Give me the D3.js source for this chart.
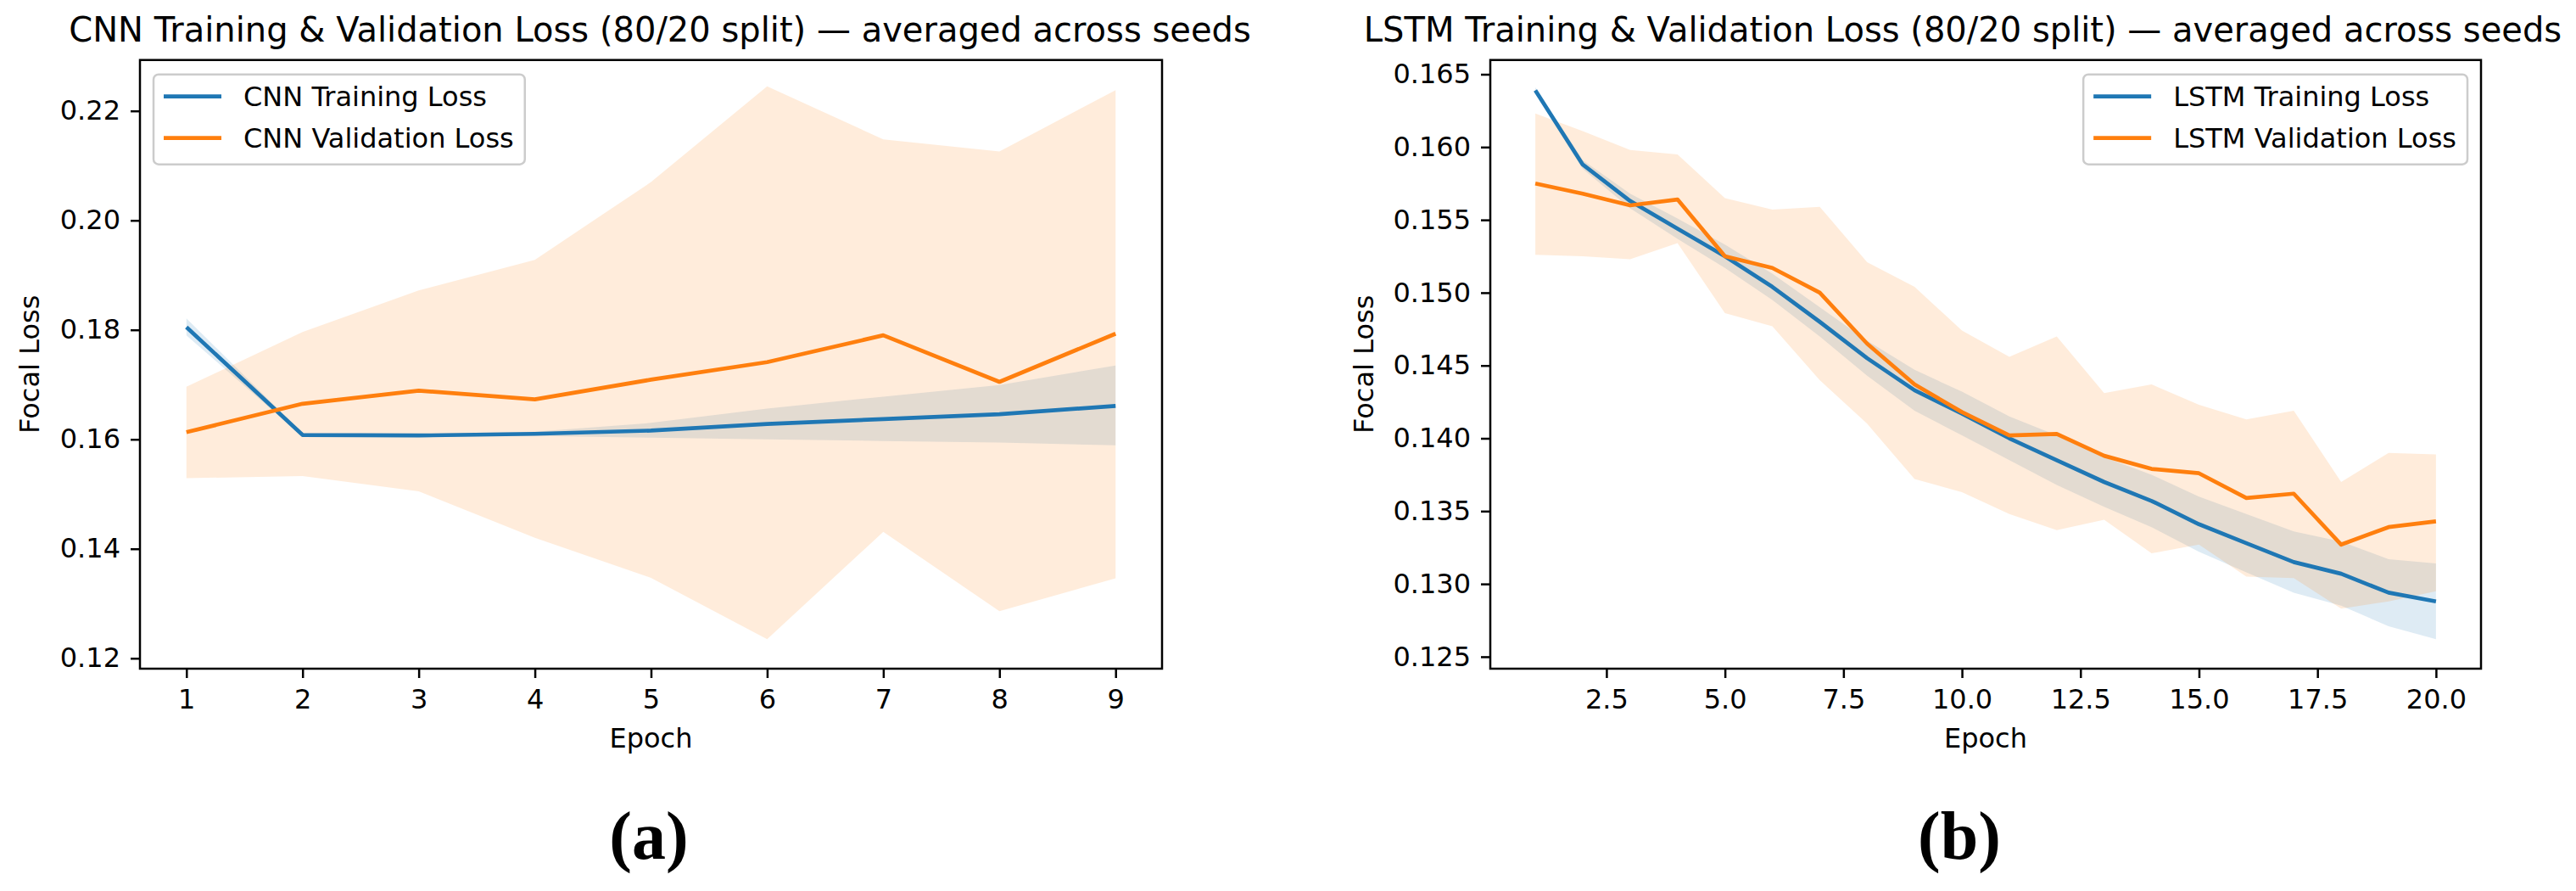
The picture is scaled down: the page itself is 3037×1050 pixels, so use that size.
<!DOCTYPE html>
<html>
  <head>
    <meta charset="UTF-8" />
    <title>CNN / LSTM Training & Validation Loss</title>
    <script src="https://cdn.jsdelivr.net/npm/d3@7"></script>
    <style>
      body { margin: 0; background: #fff; }
      svg { display: block; font-family: 'DejaVu Sans', sans-serif; }
    </style>
  </head>
  <body>
    <svg></svg>
    <script>
      // 1. data
      const cnnEpochs = [1, 2, 3, 4, 5, 6, 7, 8, 9]
      const cnnTrain = [0.1805, 0.1608, 0.1607, 0.161, 0.1616, 0.1628, 0.1637, 0.1646, 0.1661]
      const cnnTrainLo = [0.179, 0.1605, 0.1604, 0.1606, 0.1603, 0.16, 0.1597, 0.1594, 0.1589]
      const cnnTrainHi = [0.1821, 0.1611, 0.161, 0.1614, 0.163, 0.1656, 0.1678, 0.1699, 0.1735]
      const cnnVal = [0.1613, 0.1665, 0.1689, 0.1673, 0.1709, 0.1741, 0.179, 0.1705, 0.1793]
      const cnnValLo = [0.1529, 0.1533, 0.1505, 0.142, 0.1347, 0.1235, 0.1431, 0.1286, 0.1346]
      const cnnValHi = [0.1696, 0.1796, 0.1872, 0.1928, 0.207, 0.2245, 0.2148, 0.2126, 0.2238]

      const lstmEpochs = [1, 2, 3, 4, 5, 6, 7, 8, 9, 10, 11, 12, 13, 14, 15, 16, 17, 18, 19, 20]
      const lstmTrain = [0.1639, 0.1588, 0.1563, 0.1544, 0.1525, 0.1504, 0.148, 0.1455, 0.1433, 0.1417,
        0.14, 0.1385, 0.137, 0.1357, 0.1341, 0.1328, 0.1315, 0.1307, 0.1294, 0.1288]
      const lstmTrainLo = [0.1637, 0.1585, 0.1558, 0.1537, 0.1517, 0.1495, 0.147, 0.1443, 0.1419, 0.1402,
        0.1385, 0.1368, 0.1353, 0.1339, 0.1322, 0.1308, 0.1294, 0.1285, 0.1271, 0.1262]
      const lstmTrainHi = [0.1641, 0.1591, 0.1568, 0.1551, 0.1533, 0.1513, 0.149, 0.1467, 0.1447, 0.1432,
        0.1415, 0.1402, 0.1387, 0.1375, 0.136, 0.1348, 0.1336, 0.1329, 0.1317, 0.1314]
      const lstmVal = [0.1575, 0.1568, 0.156, 0.1564, 0.1525, 0.1517, 0.15, 0.1465, 0.1437, 0.1418,
        0.1402, 0.1403, 0.1388, 0.1379, 0.1376, 0.1359, 0.1362, 0.1327, 0.1339, 0.1343]
      const lstmValLo = [0.1526, 0.1525, 0.1523, 0.1534, 0.1486, 0.1477, 0.144, 0.141, 0.1372, 0.1363,
        0.1348, 0.1337, 0.1344, 0.1321, 0.1327, 0.1305, 0.1304, 0.1283, 0.1288, 0.1295]
      const lstmValHi = [0.1623, 0.1611, 0.1598, 0.1595, 0.1565, 0.1557, 0.1559, 0.1521, 0.1504, 0.1474,
        0.1456, 0.147, 0.1431, 0.1437, 0.1423, 0.1413, 0.1419, 0.137, 0.139, 0.1389]

      const cnnXTicks = [1, 2, 3, 4, 5, 6, 7, 8, 9]
      const cnnYTicks = [0.12, 0.14, 0.16, 0.18, 0.2, 0.22]
      const lstmXTicks = [2.5, 5, 7.5, 10, 12.5, 15, 17.5, 20]
      const lstmYTicks = [0.125, 0.13, 0.135, 0.14, 0.145, 0.15, 0.155, 0.16, 0.165]

      // 2. basics
      const width = 3037
      const height = 1050
      const fontSize = 32
      const blue = '#1f77b4'
      const orange = '#ff7f0e'

      const svg = d3
        .select('svg')
        .attr('width', width)
        .attr('height', height)
        .attr('viewBox', [0, 0, width, height])

      const panels = [
        {
          box: { left: 165, right: 1370, top: 70.7, bottom: 788 },
          xDomain: [0.6, 9.4],
          yDomain: [0.1181, 0.2293],
          xTicks: cnnXTicks,
          xFormat: d3.format('d'),
          yTicks: cnnYTicks,
          yFormat: d3.format('.2f'),
          title: 'CNN Training & Validation Loss (80/20 split) — averaged across seeds',
          titleX: 778,
          ylabelX: 34,
          tag: '(a)',
          tagX: 765,
          legend: 'left',
          series: [
            { name: 'CNN Training Loss', color: blue, x: cnnEpochs, mean: cnnTrain, lo: cnnTrainLo, hi: cnnTrainHi },
            { name: 'CNN Validation Loss', color: orange, x: cnnEpochs, mean: cnnVal, lo: cnnValLo, hi: cnnValHi },
          ],
        },
        {
          box: { left: 1757, right: 2925, top: 70.7, bottom: 788 },
          xDomain: [0.05, 20.95],
          yDomain: [0.12418, 0.16598],
          xTicks: lstmXTicks,
          xFormat: d3.format('.1f'),
          yTicks: lstmYTicks,
          yFormat: d3.format('.3f'),
          title: 'LSTM Training & Validation Loss (80/20 split) — averaged across seeds',
          titleX: 2314,
          ylabelX: 1607,
          tag: '(b)',
          tagX: 2310,
          legend: 'right',
          series: [
            { name: 'LSTM Training Loss', color: blue, x: lstmEpochs, mean: lstmTrain, lo: lstmTrainLo, hi: lstmTrainHi },
            { name: 'LSTM Validation Loss', color: orange, x: lstmEpochs, mean: lstmVal, lo: lstmValLo, hi: lstmValHi },
          ],
        },
      ]

      panels.forEach(drawPanel)

      function drawPanel(p) {
        const b = p.box
        const x = d3.scaleLinear(p.xDomain, [b.left, b.right])
        const y = d3.scaleLinear(p.yDomain, [b.bottom, b.top])
        const g = svg.append('g')

        // bands
        const area = d3
          .area()
          .x((d) => x(d[0]))
          .y0((d) => y(d[1]))
          .y1((d) => y(d[2]))
        g.append('g')
          .selectAll('path')
          .data(p.series)
          .join('path')
          .attr('fill', (d) => d.color)
          .attr('fill-opacity', 0.15)
          .attr('d', (d) => area(d3.zip(d.x, d.lo, d.hi)))

        // mean lines
        const line = d3
          .line()
          .x((d) => x(d[0]))
          .y((d) => y(d[1]))
        g.append('g')
          .attr('fill', 'none')
          .attr('stroke-width', 4.7)
          .attr('stroke-linejoin', 'round')
          .selectAll('path')
          .data(p.series)
          .join('path')
          .attr('stroke', (d) => d.color)
          .attr('d', (d) => line(d3.zip(d.x, d.mean)))

        // axes
        g.append('g')
          .attr('transform', `translate(0,${b.bottom})`)
          .call(d3.axisBottom(x).tickValues(p.xTicks).tickFormat(p.xFormat).tickSize(11).tickPadding(13).tickSizeOuter(0))
          .call(styleAxis)
        g.append('g')
          .attr('transform', `translate(${b.left},0)`)
          .call(d3.axisLeft(y).tickValues(p.yTicks).tickFormat(p.yFormat).tickSize(11).tickPadding(12).tickSizeOuter(0))
          .call(styleAxis)

        // frame
        g.append('rect')
          .attr('x', b.left)
          .attr('y', b.top)
          .attr('width', b.right - b.left)
          .attr('height', b.bottom - b.top)
          .attr('fill', 'none')
          .attr('stroke', '#000')
          .attr('stroke-width', 2.5)

        // texts
        g.append('text')
          .attr('x', p.titleX)
          .attr('y', 49)
          .attr('text-anchor', 'middle')
          .attr('font-size', 40)
          .text(p.title)
        g.append('text')
          .attr('x', (b.left + b.right) / 2)
          .attr('y', 881)
          .attr('text-anchor', 'middle')
          .attr('font-size', fontSize)
          .text('Epoch')
        g.append('text')
          .attr('transform', `translate(${p.ylabelX},${(b.top + b.bottom) / 2}) rotate(-90)`)
          .attr('dy', '0.36em')
          .attr('text-anchor', 'middle')
          .attr('font-size', fontSize)
          .text('Focal Loss')
        g.append('text')
          .attr('x', p.tagX)
          .attr('y', 1012)
          .attr('text-anchor', 'middle')
          .attr('font-family', "'Liberation Serif', serif")
          .attr('font-weight', 'bold')
          .attr('font-size', 80)
          .text(p.tag)

        drawLegend(g, p)
      }

      function styleAxis(g) {
        g.attr('font-size', fontSize).attr('font-family', null)
        g.select('.domain').remove()
        g.selectAll('.tick line').attr('stroke', '#000').attr('stroke-width', 2.5)
        g.selectAll('.tick text').attr('fill', '#000')
      }

      function drawLegend(g, p) {
        const b = p.box
        const lg = g.append('g')
        const rect = lg
          .append('rect')
          .attr('rx', 6)
          .attr('fill', '#fff')
          .attr('fill-opacity', 0.8)
          .attr('stroke', '#cccccc')
          .attr('stroke-width', 2.5)
        const rows = lg
          .selectAll('g.row')
          .data(p.series)
          .join('g')
          .attr('class', 'row')
          .attr('transform', (d, i) => `translate(0,${26 + i * 49})`)
        rows.append('line')
          .attr('x1', 12)
          .attr('x2', 80)
          .attr('stroke', (d) => d.color)
          .attr('stroke-width', 4.7)
        rows.append('text')
          .attr('x', 106)
          .attr('dy', 11.5)
          .attr('font-size', fontSize)
          .text((d) => d.name)

        const textW = d3.max(rows.selectAll('text').nodes(), (n) => n.getComputedTextLength())
        const w = 106 + textW + 13
        rect.attr('width', w).attr('height', 106)
        const lx = p.legend === 'left' ? b.left + 16 : b.right - 16 - w
        lg.attr('transform', `translate(${lx},${b.top + 17})`)
      }
    </script>
  </body>
</html>
